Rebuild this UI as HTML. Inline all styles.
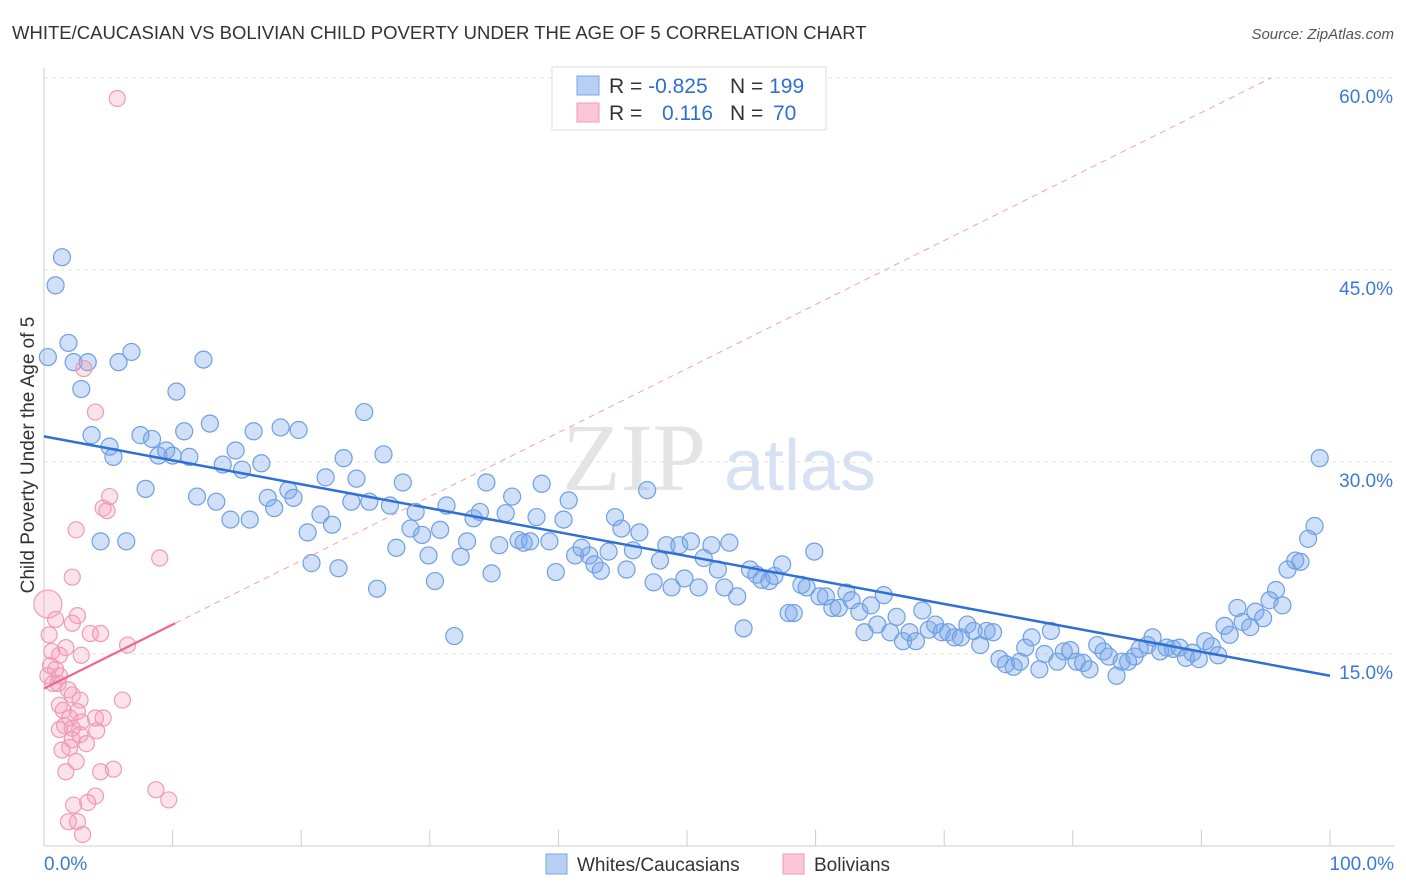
<!DOCTYPE html>
<html><head><meta charset="utf-8"><style>
body{margin:0;background:#fff;font-family:"Liberation Sans",sans-serif;}
svg{display:block}
</style></head><body>
<svg id="c" width="1406" height="892" xmlns="http://www.w3.org/2000/svg">
<text x="12" y="39" font-size="18.5" fill="#333">WHITE/CAUCASIAN VS BOLIVIAN CHILD POVERTY UNDER THE AGE OF 5 CORRELATION CHART</text>
<text x="1394" y="39" font-size="15" fill="#555" font-style="italic" text-anchor="end">Source: ZipAtlas.com</text>
<text x="634" y="490" font-size="96" fill="#e4e4e4" font-family="Liberation Serif,serif" text-anchor="middle">ZIP</text>
<text x="800" y="490" font-size="72" fill="#d6e2f3" text-anchor="middle">atlas</text>
<text transform="translate(34,455) rotate(-90)" font-size="19" fill="#333" text-anchor="middle">Child Poverty Under the Age of 5</text>
<g id="grid"></g><g id="pts"></g><g id="lines"></g>
<g>
<rect x="552" y="67" width="274" height="63" fill="#fff" stroke="#ddd"/>
<rect x="577" y="76" width="22" height="19" fill="#b8d0f3" stroke="#7aa6e6"/>
<rect x="577" y="103" width="22" height="19" fill="#fbc6d5" stroke="#f09ab5"/>
<text x="609" y="93" font-size="21" fill="#333">R = <tspan fill="#2f6fd0">-0.825</tspan><tspan x="730">N = </tspan><tspan fill="#2f6fd0">199</tspan></text>
<text x="609" y="120" font-size="21" fill="#333">R = <tspan x="662" fill="#2f6fd0">0.116</tspan><tspan x="730">N = </tspan><tspan x="773" fill="#2f6fd0">70</tspan></text>
</g>
<g>
<rect x="546" y="854" width="21" height="20" fill="#b8d0f3" stroke="#7aa6e6"/>
<text x="577" y="871" font-size="19" fill="#333">Whites/Caucasians</text>
<rect x="783" y="854" width="21" height="20" fill="#fbc6d5" stroke="#f09ab5"/>
<text x="814" y="871" font-size="19" fill="#333">Bolivians</text>
</g>
</svg>
<script>
const yTicks=[15,30,45,60];
const xTickVals=[0,10,20,30,40,50,60,70,80,90,100];
const blueX=[0.3,1.4,0.9,1.9,2.3,3.4,2.9,3.7,5.1,5.4,5.8,6.8,4.4,6.4,7.9,7.5,8.4,8.9,9.5,10.0,10.3,10.9,11.3,11.9,12.4,12.9,13.4,13.9,14.5,14.9,15.4,16.0,16.3,16.9,17.4,17.9,18.4,19.0,19.4,19.8,20.5,20.8,21.5,21.9,22.4,22.9,23.3,23.9,24.3,24.9,25.3,25.9,26.4,26.9,27.4,27.9,28.5,28.9,29.4,29.9,30.4,30.8,31.3,31.9,32.4,32.9,33.4,33.9,34.4,34.8,35.4,35.9,36.4,36.9,37.3,37.8,38.3,38.7,39.3,39.8,40.4,40.8,41.3,41.8,42.4,42.8,43.3,43.9,44.4,44.9,45.3,45.8,46.3,46.9,47.4,47.9,48.4,48.8,49.4,49.8,50.3,50.9,51.3,51.9,52.4,52.9,53.3,53.9,54.4,54.9,55.4,55.8,56.4,56.8,57.4,57.9,58.3,58.9,59.3,59.9,60.3,60.8,61.3,61.8,62.4,62.8,63.4,63.8,64.3,64.8,65.3,65.8,66.3,66.8,67.3,67.8,68.3,68.8,69.3,69.8,70.3,70.8,71.3,71.8,72.3,72.8,73.3,73.8,74.3,74.8,75.4,75.9,76.3,76.8,77.4,77.8,78.3,78.8,79.3,79.8,80.3,80.8,81.3,81.9,82.4,82.8,83.4,83.8,84.3,84.8,85.2,85.8,86.2,86.8,87.3,87.8,88.3,88.8,89.3,89.8,90.3,90.8,91.3,91.8,92.2,92.8,93.2,93.8,94.2,94.8,95.3,95.8,96.3,96.7,97.3,97.7,98.3,98.8,99.2];
const blueY=[38.2,46.0,43.8,39.3,37.8,37.8,35.7,32.1,31.2,30.4,37.8,38.6,23.8,23.8,27.9,32.1,31.8,30.5,30.9,30.5,35.5,32.4,30.4,27.3,38.0,33.0,26.9,29.8,25.5,30.9,29.4,25.5,32.4,29.9,27.2,26.4,32.7,27.8,27.2,32.5,24.5,22.1,25.9,28.8,25.1,21.7,30.3,26.9,28.7,33.9,26.9,20.1,30.6,26.6,23.3,28.4,24.8,26.1,24.3,22.7,20.7,24.7,26.6,16.4,22.6,23.8,25.6,26.1,28.4,21.3,23.5,26.0,27.3,23.9,23.7,23.8,25.7,28.3,23.8,21.4,25.5,27.0,22.7,23.3,22.7,22.0,21.5,23.0,25.7,24.8,21.6,23.1,24.5,27.8,20.6,22.3,23.5,20.2,23.5,20.9,23.8,20.2,22.5,23.5,21.6,20.2,23.7,19.5,17.0,21.6,21.2,20.8,20.7,21.1,22.0,18.2,18.2,20.4,20.2,23.0,19.5,19.5,18.6,18.6,19.8,19.2,18.3,16.7,18.8,17.3,19.6,16.7,17.9,16.0,16.7,16.0,18.4,16.9,17.3,16.7,16.7,16.3,16.3,17.3,16.8,15.7,16.8,16.7,14.6,14.2,14.0,14.4,15.5,16.3,13.8,15.0,16.8,14.4,15.2,15.3,14.4,14.3,13.8,15.7,15.2,14.8,13.3,14.4,14.4,14.8,15.4,15.7,16.3,15.2,15.5,15.4,15.5,14.7,15.1,14.6,16.0,15.6,14.9,17.2,16.5,18.6,17.5,17.1,18.3,17.8,19.2,20.0,18.8,21.6,22.3,22.2,24.0,25.0,30.3];
const pinkX=[5.7,3.1,4.0,5.1,4.6,4.9,2.5,9.0,2.2,0.3,2.6,0.9,2.2,0.4,3.6,4.4,6.5,1.7,0.6,1.2,2.9,0.5,0.9,0.3,1.2,0.7,1.1,1.9,2.2,2.8,6.1,1.2,1.5,2.6,2.0,4.0,4.6,2.9,1.6,2.2,1.2,4.1,2.8,2.2,3.3,1.4,2.0,2.5,1.7,4.4,5.4,8.7,9.7,4.0,3.4,2.3,1.9,2.6,3.0];
const pinkY=[58.4,37.3,33.9,27.3,26.4,26.2,24.7,22.5,21.0,18.9,18.0,17.7,17.4,16.5,16.6,16.6,15.7,15.5,15.2,14.9,14.9,14.1,13.8,13.3,13.3,12.7,12.7,12.2,11.8,11.4,11.4,11.0,10.6,10.5,10.0,10.0,10.0,9.7,9.4,9.2,9.1,9.0,8.7,8.3,8.0,7.5,7.7,6.6,5.8,5.8,6.0,4.4,3.6,3.9,3.4,3.2,1.9,1.9,0.9];
const blueTrend=[32.0,13.3];
const pinkTrend=[12.3,0.5];
const X=v=>44+v*12.86, Y=v=>846-v*12.8;
const NS='http://www.w3.org/2000/svg';
function mk(t,a,p){const e=document.createElementNS(NS,t);for(const k in a)e.setAttribute(k,a[k]);p.appendChild(e);return e;}
const g=document.getElementById('grid');
yTicks.forEach(v=>{
 const l=mk('line',{x1:44,x2:1394,y1:Y(v),y2:Y(v),stroke:'#e2e2e2','stroke-dasharray':'4,4'},g);
 
 
 const t=mk('text',{x:1393,y:Y(v)+25,'font-size':19,fill:'#3b78d8','text-anchor':'end'},g);
 t.textContent=v.toFixed(1)+'%';
 
 
});
mk('line',{x1:44,x2:44,y1:68,y2:846,stroke:'#ccc'},g);
mk('line',{x1:44,x2:1394,y1:846,y2:846,stroke:'#ccc'},g);
xTickVals.forEach(v=>{const l=mk('line',{x1:X(v),x2:X(v),y1:846,y2:830,stroke:'#ccc'},g);
 
 });
const t0=mk('text',{x:44,y:870,'font-size':19,fill:'#3b78d8'},g);t0.textContent='0.0%';


const t1=mk('text',{x:1394,y:870,'font-size':19,fill:'#3b78d8','text-anchor':'end'},g);t1.textContent='100.0%';


const p=document.getElementById('pts');
blueX.forEach((x,i)=>{const c=mk('circle',{cx:X(x),cy:Y(blueY[i]),r:8.5,fill:'rgba(120,165,235,0.35)',stroke:'#6f9fe3','stroke-width':1.2},p);
 
 });
pinkX.forEach((x,i)=>{const c=mk('circle',{cx:X(x),cy:Y(pinkY[i]),r:i==9?14:8,fill:'rgba(245,160,190,0.3)',stroke:'#f09ab5','stroke-width':1.2},p);
 
 });
const L=document.getElementById('lines');
const bl=mk('line',{x1:X(0),y1:Y(blueTrend[0]),x2:X(100),y2:Y(blueTrend[1]),stroke:'#2f6fd6','stroke-width':2.5},L);


const xe=(60-pinkTrend[0])/pinkTrend[1];
const pd=mk('line',{x1:X(10.2),y1:Y(pinkTrend[0]+pinkTrend[1]*10.2),x2:X(xe),y2:Y(60),stroke:'#f0a0b8','stroke-width':1,'stroke-dasharray':'6,5'},L);


const pl=mk('line',{x1:X(0),y1:Y(pinkTrend[0]),x2:X(10.2),y2:Y(pinkTrend[0]+pinkTrend[1]*10.2),stroke:'#ec6690','stroke-width':2.2},L);


</script>
</body></html>
